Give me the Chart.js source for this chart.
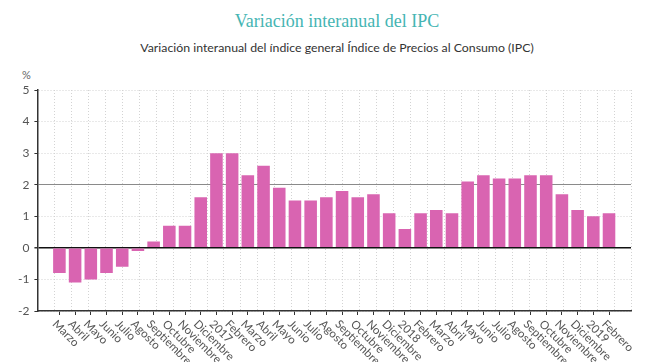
<!DOCTYPE html>
<html>
<head>
<meta charset="utf-8">
<script src="https://cdn.jsdelivr.net/npm/chart.js@4.4.0/dist/chart.umd.min.js"></script>
<style>
    body { margin: 0; background: #fff; }
    #wrap { position: relative; width: 654px; height: 362px; }
    #title { position: absolute; left: 0; width: 674px; top: 11px; text-align: center;
        font-family: 'Liberation Serif', serif; font-size: 18px; color: #45b5b3; }
    #subtitle { position: absolute; left: 0; width: 674px; top: 40px; text-align: center;
        font-family: Lato, sans-serif; font-size: 12.3px; color: #333; }
    #unit { position: absolute; left: 22px; top: 68px; font-family: Lato, sans-serif; font-size: 11px; color: #666; }
    canvas { position: absolute; left: 0; top: 0; }
</style>
</head>
<body>
<div id="wrap">
    <div id="title">Variación interanual del IPC</div>
    <div id="subtitle">Variación interanual del índice general Índice de Precios al Consumo (IPC)</div>
    <div id="unit">%</div>
    <canvas id="ipcChart" width="654" height="362"></canvas>
</div>
<script>
// meses desde marzo 2016 hasta febrero 2019
const months = ['Marzo', 'Abril', 'Mayo', 'Junio', 'Julio', 'Agosto', 'Septiembre', 'Octubre', 'Noviembre', 'Diciembre',
    '2017', 'Febrero', 'Marzo', 'Abril', 'Mayo', 'Junio', 'Julio', 'Agosto', 'Septiembre', 'Octubre', 'Noviembre', 'Diciembre',
    '2018', 'Febrero', 'Marzo', 'Abril', 'Mayo', 'Junio', 'Julio', 'Agosto', 'Septiembre', 'Octubre', 'Noviembre', 'Diciembre',
    '2019', 'Febrero'];
const ipcValues = [-0.8, -1.1, -1.0, -0.8, -0.6, -0.1, 0.2, 0.7, 0.7, 1.6,
    3.0, 3.0, 2.3, 2.6, 1.9, 1.5, 1.5, 1.6, 1.8, 1.6, 1.7, 1.1,
    0.6, 1.1, 1.2, 1.1, 2.1, 2.3, 2.2, 2.2, 2.3, 2.3, 1.7, 1.2,
    1.0, 1.1];
const yMin = -2;
const yMax = 5;
const refLine = 2;

const barColor = '#d964b1';

// etiquetas del eje x giradas hacia abajo
const rotatedLabels = {
    id: 'rotatedLabels',
    afterDraw(chart){
        const ctx = chart.ctx;
        const sx = chart.scales.x;
        const base = chart.chartArea.bottom + 7;
        ctx.save();
        ctx.font = '11.5px Lato';
        ctx.fillStyle = '#555';
        ctx.textAlign = 'left';
        ctx.textBaseline = 'top';
        months.forEach((m, i) => {
            const px = sx.getPixelForValue(i);
            ctx.save();
            ctx.translate(px - 1, base);
            ctx.rotate(Math.PI / 4);
            ctx.fillText(m, 0, 0);
            ctx.restore();
        });
        ctx.restore();
    }
};

const ctx = document.getElementById('ipcChart').getContext('2d');
const chart = new Chart(ctx, {
    type: 'bar',
    data: {
        datasets: [{
            label: 'IPC',
            data: ipcValues.map((v, i) => ({x: i, y: v})),
            backgroundColor: barColor,
            barPercentage: 0.8,
            categoryPercentage: 1
        }]
    },
    options: {
        responsive: false,
        animation: false,
        layout: {padding: {left: 13, right: 23, top: 90, bottom: 47}},
        plugins: {
            legend: {display: false},
            tooltip: {enabled: false}
        },
        scales: {
            x: {
                type: 'linear',
                offset: false,
                min: -1.4,
                max: months.length - 1 + 1.4,
                afterBuildTicks: scale => {
                    scale.ticks = months.map((m, i) => ({value: i}));
                },
                ticks: {display: false},
                grid: {offset: false, drawOnChartArea: false, drawTicks: true, tickLength: 4, color: '#333'},
                border: {display: true, color: '#333', width: 1.5, dash: [1, 1]}
            },
            xg: {
                type: 'linear',
                position: 'bottom',
                offset: false,
                min: 0,
                max: months.length - 1,
                ticks: {display: false, stepSize: 1},
                grid: {offset: false, color: '#d3d3d3', drawTicks: false},
                border: {display: false, dash: [1, 2]}
            },
            y: {
                min: yMin,
                max: yMax,
                ticks: {
                    stepSize: 1,
                    color: '#555',
                    padding: 5,
                    font: {family: 'Lato', size: 12}
                },
                grid: {
                    color: c => c.tick && c.tick.value === 0 ? '#111' : (c.tick && c.tick.value === refLine ? '#8a8a8a' : '#d3d3d3'),
                    lineWidth: c => c.tick && c.tick.value === 0 ? 1.5 : 1,
                    tickColor: '#333',
                    tickLength: 3
                },
                border: {
                    color: '#333',
                    width: 1.5,
                    dash: c => c.tick && (c.tick.value === 0 || c.tick.value === refLine) ? [] : [1, 2]
                }
            }
        }
    },
    plugins: [rotatedLabels]
});
</script>
</body>
</html>
